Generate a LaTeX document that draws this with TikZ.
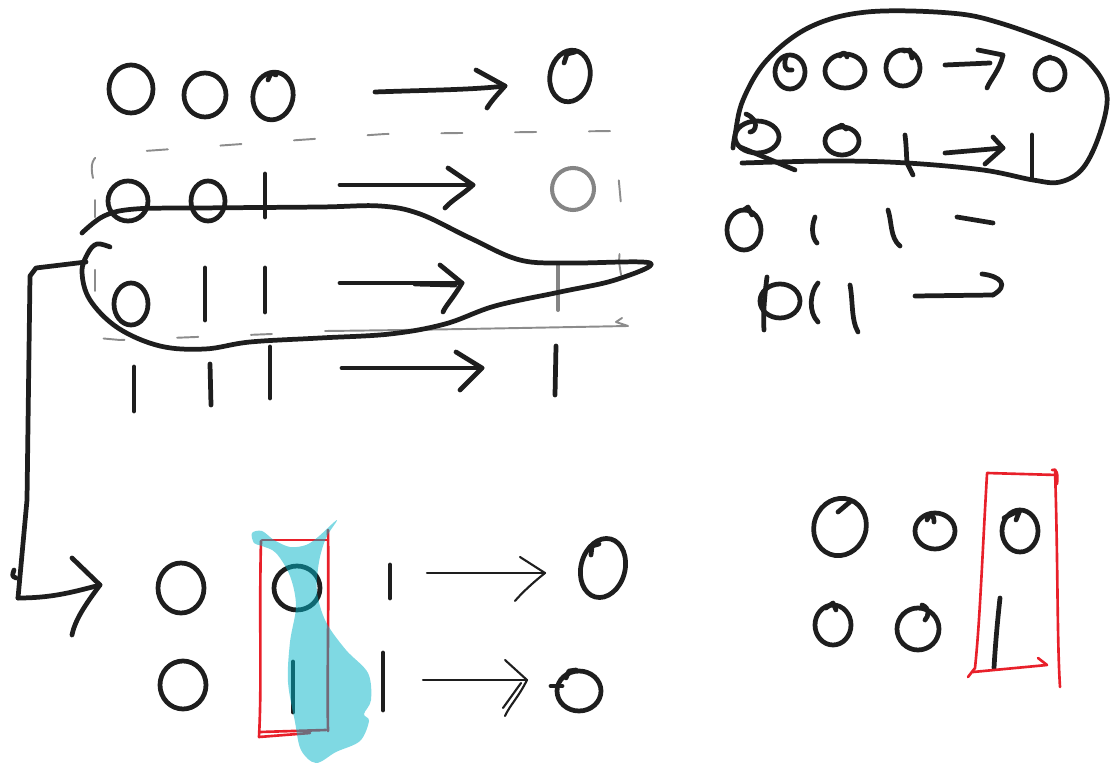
\documentclass[tikz,border=0pt]{standalone}
\usepackage{tikz}
\definecolor{inkc}{HTML}{1E1E1E}
\definecolor{grayc}{HTML}{858585}
\definecolor{boxc}{HTML}{8C8C8C}
\definecolor{redc}{HTML}{E8202A}
\definecolor{cyanc}{HTML}{00B4C8}
\tikzset{
  ink/.style={draw=inkc, line width=2.7pt, line cap=round, line join=round},
  thinink/.style={draw=inkc, line width=1.2pt, line cap=round, line join=round},
  grayink/.style={draw=grayc, line width=2.3pt, line cap=round, line join=round},
  boxline/.style={draw=boxc, line width=1.1pt, line cap=round, line join=round},
  boxdash/.style={boxline, dash pattern=on 12pt off 30pt},
  redink/.style={draw=redc, line width=1.5pt, line cap=round, line join=round},
  marker/.style={fill=cyanc, fill opacity=0.5, draw=none},
}
\begin{document}
\begin{tikzpicture}[x=0.02cm, y=-0.02cm]
\useasboundingbox (0,0) rectangle (1119,763);

% ---------- upper left: four rows of bits ----------
% row 1
\draw[ink] (131,89) ellipse [x radius=22, y radius=24];
\draw[ink] (205,95) ellipse [x radius=21, y radius=22];
\draw[ink, rotate around={-12:(273,96)}] (273,96) ellipse [x radius=20, y radius=24];
\draw[ink] (268,80) -- (271,73) -- (276,75);
\coordinate (a1s) at (375,92); \coordinate (a1e) at (505,86);
\draw[ink] (a1s) .. controls (430,90) and (470,90) .. (a1e);
\draw[ink] (476,70) -- (a1e) .. controls (498,94) and (492,100) .. (487,108);
\draw[ink, rotate around={-12:(570,76)}] (570,76) ellipse [x radius=20, y radius=26];
\draw[ink] (564,63) -- (567,54) -- (575,52);

% row 2
\draw[ink] (128,201) ellipse [x radius=20, y radius=20];
\draw[ink] (208,201) ellipse [x radius=17, y radius=20];
\draw[ink] (265,174) -- (265,217);
\coordinate (a2s) at (340,185); \coordinate (a2e) at (473,185);
\draw[ink] (a2s) -- (a2e);
\draw[ink] (448,168) -- (a2e) .. controls (462,195) and (452,200) .. (445,208);
\draw[grayink] (573,189) circle [radius=21];

% row 3
\draw[ink] (131,304) ellipse [x radius=17, y radius=21];
\draw[ink] (205,268) -- (205,320);
\draw[ink] (265,268) -- (265,312);
\coordinate (a3s) at (340,283); \coordinate (a3e) at (462,283);
\draw[ink] (a3s) -- (a3e);
\draw[ink] (415,284) -- (455,285);
\draw[ink] (440,265) -- (a3e) .. controls (452,300) and (446,305) .. (443,312);
\draw[grayink] (558,265) -- (558,310);

% row 4
\draw[ink] (134,367) -- (134,411);
\draw[ink] (210,364) -- (211,405);
\draw[ink] (270,347) -- (270,398);
\coordinate (a4s) at (342,368); \coordinate (a4e) at (482,368);
\draw[ink] (a4s) -- (a4e);
\draw[ink] (456,352) -- (a4e) .. controls (472,378) and (466,384) .. (460,390);
\draw[ink] (556,346) -- (555,395);

% dashed frame round rows 2 and 3
\draw[boxdash] (93,178) .. controls (90,165) and (92,156) .. (103,154)
  -- (270,142) -- (385,134) -- (612,131) .. controls (616,135) .. (616,150)
  -- (622,215) -- (619,262) -- (625,300) -- (622,318);
\draw[boxline] (622,318) -- (616,322) -- (628,326) .. controls (520,328) and (420,330) .. (325,331);
\draw[boxdash] (272,334) -- (120,340) -- (98,338) -- (95,300) -- (95,200);

% loop round rows 2 and 3
\draw[ink] plot[smooth, tension=0.6] coordinates {
  (82,233) (104,216) (135,209) (200,208) (320,207) (380,206) (420,214)
  (470,238) (520,260) (570,263) (650,263) (615,280) (560,292) (495,306)
  (445,324) (390,334) (320,338) (250,342) (205,349) (160,346) (118,328)
  (90,300) (82,272) (88,253) (97,244) (110,247)};

% connector down to the lower rows
\coordinate (c0) at (86,262);
\coordinate (c1) at (18,598);
\coordinate (c2) at (100,585);
\draw[ink] (c0) -- (36,268) -- (30,276) -- (27,500) -- (c1);
\draw[ink] (14,570) .. controls (12,576) .. (16,578);
\draw[ink] (c1) .. controls (50,598) and (70,593) .. (c2);
\draw[ink] (72,558) -- (c2) .. controls (85,605) and (75,620) .. (72,635);

% ---------- lower left: two rows ----------
\draw[ink] (181,588) ellipse [x radius=23, y radius=25];
\draw[ink] (297,588) ellipse [x radius=23, y radius=22];
\draw[ink] (390,565) -- (390,598);
\coordinate (b1s) at (427,573); \coordinate (b1e) at (545,573);
\draw[thinink] (b1s) -- (b1e);
\draw[thinink] (520,557) -- (b1e) .. controls (530,585) and (520,595) .. (515,601);
\draw[ink, rotate around={-15:(603,568)}] (603,568) ellipse [x radius=22, y radius=30];
\draw[ink] (591,555) -- (592,546) -- (599,544);

\draw[ink] (183,685) ellipse [x radius=23, y radius=24];
\draw[ink] (293,662) -- (293,712);
\draw[ink] (383,653) -- (383,710);
\coordinate (b2s) at (423,680); \coordinate (b2e) at (527,680);
\draw[thinink] (b2s) -- (b2e);
\draw[thinink] (505,660) -- (b2e) .. controls (518,698) and (510,705) .. (505,716);
\draw[thinink] (521,683) -- (503,708);
\draw[ink] (579,691) ellipse [x radius=22, y radius=20];
\draw[ink] (551,686) -- (562,686);
\draw[ink] (566,678) -- (569,671) -- (576,670);

% red frame round the middle column
\draw[redink] (262,540) -- (328,540);
\draw[redink] (261,541) .. controls (259,620) and (262,680) .. (259,737) -- (310,733);
\draw[redink] (260,732) -- (326,730);
\draw[redink] (328,530) .. controls (329,600) and (327,680) .. (328,731);

% cyan highlighter stroke
\fill[marker] plot[smooth cycle, tension=0.55] coordinates {
  (252,533) (262,531) (274,540) (290,547) (306,545) (318,537) (337,520)
  (326,538) (319,562) (317,592) (326,622) (346,650) (368,673) (371,700)
  (364,714) (369,721) (360,741) (336,752) (316,763) (301,750) (295,722)
  (288,682) (290,642) (296,606) (290,576) (276,553) (262,546) (254,543)};

% ---------- upper right: grouped rows ----------
\draw[ink] plot[smooth, tension=0.6] coordinates {
  (742,163) (833,161) (907,163) (983,170) (1033,180) (1060,182) (1083,168)
  (1100,133) (1107,95) (1093,67) (1067,48) (1000,23) (950,13) (867,12)
  (810,27) (767,60) (743,100) (735,135) (733,148)};

\draw[ink] (790,72) ellipse [x radius=15, y radius=17];
\draw[ink] (786,57) .. controls (783,66) and (786,72) .. (792,70);
\draw[ink] (845,71) ellipse [x radius=20, y radius=17];
\draw[ink] (840,56) .. controls (842,52) and (846,52) .. (847,57);
\draw[ink] (903,68) ellipse [x radius=17, y radius=18];
\draw[ink] (904,51) -- (910,50) -- (912,58);
\coordinate (r1s) at (945,65); \coordinate (r1e) at (1003,55);
\draw[ink] (r1s) -- (990,63);
\draw[ink] (978,50) -- (r1e) .. controls (1000,70) and (990,80) .. (987,88);
\draw[ink] (1050,74) ellipse [x radius=15, y radius=16];
\draw[ink] (1043,60) -- (1050,57);

\draw[ink] (757,137) ellipse [x radius=22, y radius=16];
\draw[ink] (746,114) .. controls (760,120) and (756,132) .. (750,132);
\draw[ink] (740,147) -- (795,170);
\draw[ink] (842,141) ellipse [x radius=17, y radius=14];
\draw[ink] (836,128) -- (842,125) -- (846,129);
\draw[ink] (905,135) .. controls (907,150) and (906,162) .. (908,165) -- (913,175);
\coordinate (r2s) at (945,153); \coordinate (r2e) at (1003,148);
\draw[ink] (r2s) -- (r2e);
\draw[ink] (993,137) -- (r2e) -- (985,164);
\draw[ink] (1032,135) -- (1032,178);

\draw[ink] (744,230) ellipse [x radius=17, y radius=20];
\draw[ink] (744,210) -- (748,207) -- (752,215);
\draw[ink] (815,217) .. controls (811,227) and (812,238) .. (817,243);
\draw[ink] (888,210) .. controls (892,222) and (890,238) .. (900,246);
\draw[ink] (957,217) -- (993,223);

\draw[ink] (780,301) ellipse [x radius=20, y radius=17];
\draw[ink] (767,277) .. controls (764,300) and (763,318) .. (764,330);
\draw[ink] (818,283) .. controls (810,292) and (808,312) .. (818,322);
\draw[ink] (850,285) .. controls (853,300) and (851,320) .. (858,332);
\coordinate (r4s) at (915,296); \coordinate (r4e) at (993,295);
\draw[ink] (r4s) -- (r4e);
\draw[ink] (982,274) .. controls (1000,276) and (1010,285) .. (r4e);

% ---------- lower right ----------
\draw[ink, rotate around={-20:(840,527)}] (840,527) ellipse [x radius=26, y radius=29];
\draw[ink] (838,512) -- (851,501);
\draw[ink] (935,531) ellipse [x radius=20, y radius=18];
\draw[ink] (927,520) .. controls (930,513) and (934,514) .. (934,522);
\draw[ink] (1020,531) ellipse [x radius=18, y radius=21];
\draw[ink] (1004,518) -- (1020,510) -- (1016,520);
\draw[ink] (833,625) ellipse [x radius=18, y radius=20];
\draw[ink] (826,608) -- (833,603) -- (836,610);
\draw[ink] (918,629) ellipse [x radius=21, y radius=21];
\draw[ink] (922,605) .. controls (930,608) and (929,616) .. (925,620);
\draw[ink] (1000,598) .. controls (997,625) and (995,650) .. (994,668);

\draw[redink] (987,473) -- (1057,475);
\draw[redink] (1052,470) .. controls (1057,467) and (1058,475) .. (1057,484);
\draw[redink] (1055,470) .. controls (1058,560) and (1057,640) .. (1060,687);
\draw[redink] (987,474) .. controls (982,560) and (980,620) .. (975,668) -- (968,677);
\draw[redink] (973,672) -- (1047,665) -- (1038,658);
\end{tikzpicture}
\end{document}
